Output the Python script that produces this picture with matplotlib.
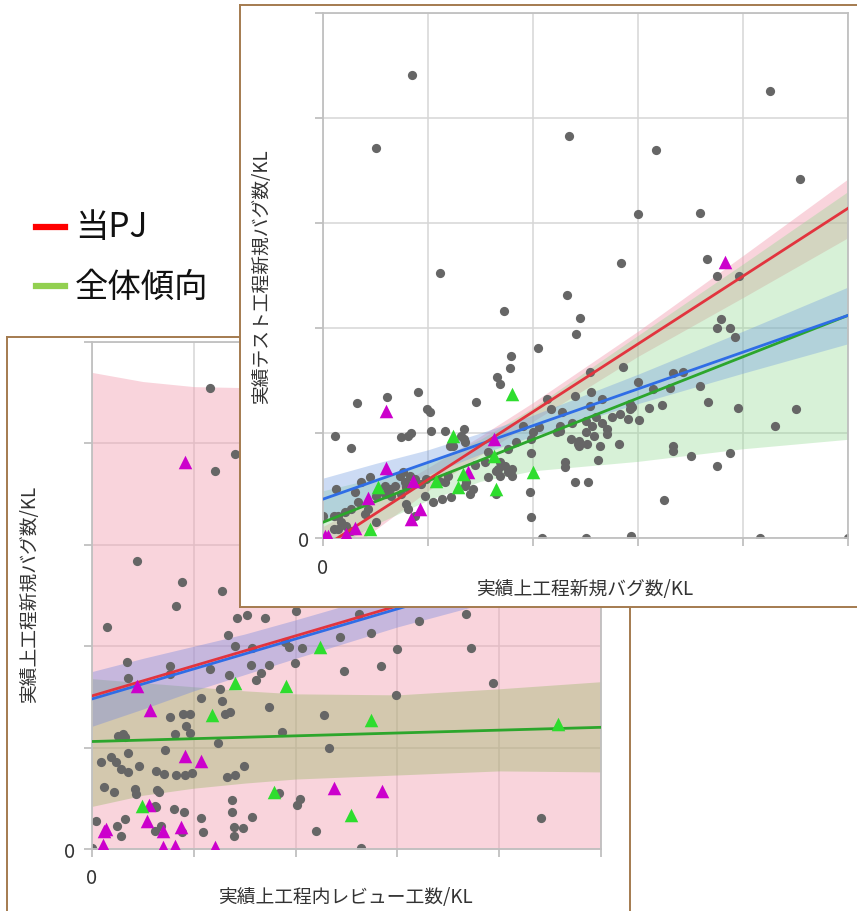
import matplotlib
matplotlib.use('Agg')
import matplotlib.pyplot as plt
from matplotlib.lines import Line2D

plt.rcParams['font.family'] = ['Noto Sans CJK JP', 'DejaVu Sans']

W, H = 857, 912

# ---------------- data (grid units, one grid step = 1) ----------------
# front panel: 実績上工程新規バグ数/KL vs 実績テスト工程新規バグ数/KL
front_grey = [
    (0.85, 4.41), (4.26, 4.26), (0.50, 3.71), (2.34, 3.83), (3.17, 3.70), (4.54, 3.42),
    (3.00, 3.09), (3.59, 3.10), (1.11, 2.52), (2.84, 2.62), (3.66, 2.66), (3.75, 2.50),
    (3.96, 2.50), (2.32, 2.31), (1.72, 2.16), (2.45, 2.10), (2.41, 1.94), (3.79, 2.09),
    (3.75, 2.00), (3.88, 2.00), (3.92, 1.91),
    (2.05, 1.81), (1.79, 1.73), (1.78, 1.62), (1.66, 1.53), (1.69, 1.47), (2.86, 1.63),
    (3.00, 1.49), (3.33, 1.57), (3.43, 1.58), (3.30, 1.43), (3.59, 1.45), (3.67, 1.30),
    (3.95, 1.24), (4.50, 1.23), (4.30, 1.07), (3.88, 0.81), (3.75, 0.69), (3.50, 0.78),
    (3.33, 0.88), (3.33, 0.83), (3.25, 0.36), (2.93, 0.02), (4.16, 0.00), (2.50, 0.00),
    (2.09, 0.00), (1.98, 0.20), (1.97, 0.44), (1.98, 0.81), (2.40, 0.53), (2.52, 0.53),
    (2.30, 0.72), (2.30, 0.68), (2.82, 0.90), (2.62, 0.74), (5.00, 0.00),
    (2.50, 1.11), (2.56, 1.07), (2.60, 1.15), (2.66, 1.10), (2.70, 1.04), (2.58, 0.97),
    (2.50, 1.01), (2.44, 0.92), (2.36, 0.94), (2.44, 0.88), (2.64, 0.88), (2.70, 0.99),
    (2.75, 1.15), (2.83, 1.18), (2.92, 1.23), (2.90, 1.13), (3.01, 1.12), (2.66, 1.32),
    (2.54, 1.26), (2.40, 1.35), (2.23, 1.01), (2.13, 1.32), (2.17, 1.23), (2.06, 1.06),
    (2.00, 1.01), (1.98, 0.94), (1.90, 1.07), (1.84, 0.91), (1.76, 0.85), (1.73, 0.69),
    (1.80, 0.66), (1.80, 0.59), (1.76, 0.63), (1.65, 0.64), (1.69, 0.72), (1.57, 0.82),
    (1.65, 0.42), (1.57, 0.58), (1.46, 1.30), (1.34, 1.04), (1.34, 0.94), (1.24, 0.88),
    (1.16, 1.02), (1.03, 1.02), (0.99, 1.23), (1.02, 1.20), (0.90, 1.39), (0.84, 1.00),
    (0.81, 0.97), (0.74, 0.96), (0.61, 1.34), (0.32, 1.29), (0.11, 0.97), (0.27, 0.86),
    (0.12, 0.47), (0.00, 0.21), (0.10, 0.21),
    (2.54, 1.58), (2.55, 1.39), (2.28, 1.20), (2.26, 1.07), (2.26, 1.02), (2.37, 1.10),
    (2.43, 0.90), (2.51, 0.90), (2.92, 1.28), (2.94, 1.25), (3.10, 1.24), (3.23, 1.27),
    (3.14, 1.42),
    (1.45, 0.70), (1.43, 0.47), (1.40, 0.42), (1.35, 0.50), (1.36, 0.53), (1.22, 0.39),
    (1.13, 0.37), (1.05, 0.34), (1.16, 0.53), (1.19, 0.59), (1.10, 0.54), (0.98, 0.56),
    (0.93, 0.51), (0.88, 0.56), (0.83, 0.59), (0.79, 0.49), (0.78, 0.53), (0.76, 0.63),
    (0.73, 0.59), (0.69, 0.50), (0.64, 0.47), (0.59, 0.50), (0.65, 0.40), (0.59, 0.42),
    (0.52, 0.44), (0.50, 0.40), (0.45, 0.58), (0.36, 0.53), (0.30, 0.44), (0.33, 0.34),
    (0.27, 0.28), (0.21, 0.25), (0.14, 0.21), (0.17, 0.15), (0.22, 0.11), (0.10, 0.09),
    (0.14, 0.09), (0.27, 0.07), (0.40, 0.23), (0.43, 0.28), (0.50, 0.15), (0.81, 0.28),
    (0.79, 0.32), (0.88, 0.21), (0.74, 0.42), (0.97, 0.40),
    (1.35, 0.91), (1.31, 0.97), (1.21, 0.88), (1.54, 0.72), (1.67, 0.66), (1.69, 0.59),
]
front_pj = [
    (0.60, 1.21), (0.60, 0.67), (0.43, 0.38), (0.84, 0.18), (0.92, 0.28), (1.38, 0.63),
    (1.63, 0.94), (0.86, 0.54), (0.05, 0.02), (0.02, 0.02), (0.22, 0.04), (0.30, 0.10),
    (3.83, 2.63),
]
front_other = [
    (1.80, 1.37), (1.24, 0.97), (1.63, 0.78), (2.00, 0.63), (1.65, 0.47), (1.33, 0.61),
    (1.29, 0.49), (1.08, 0.54), (0.52, 0.49), (0.45, 0.09),
]
front_fit_x = [0, 5]
front_red_fit = [-0.09, 3.14]
front_blue_fit = [0.37, 2.12]
front_green_fit = [0.15, 2.12]
front_band_x = [0, 0.5, 1, 1.5, 2, 3, 4, 5]
front_red_lo = [-0.29, 0.08, 0.45, 0.79, 1.11, 1.73, 2.29, 2.86]
front_red_hi = [0.11, 0.38, 0.67, 0.97, 1.29, 1.97, 2.69, 3.42]
front_blue_lo = [0.17, 0.39, 0.60, 0.80, 0.97, 1.28, 1.57, 1.85]
front_blue_hi = [0.57, 0.71, 0.84, 1.00, 1.17, 1.56, 1.97, 2.39]
front_green_lo = [-0.15, 0.13, 0.36, 0.54, 0.64, 0.73, 0.85, 0.94]
front_green_hi = [0.45, 0.57, 0.72, 0.94, 1.24, 1.93, 2.61, 3.30]

# back panel: 実績上工程内レビュー工数/KL vs 実績上工程新規バグ数/KL
back_grey = [
    (1.16, 4.55), (1.40, 3.90), (1.21, 3.73), (0.44, 2.84), (0.88, 2.63), (1.28, 2.54),
    (0.83, 2.40), (0.15, 2.19), (1.42, 2.28), (1.52, 2.31), (1.70, 2.28), (2.00, 2.35),
    (1.34, 2.11), (1.40, 2.00), (1.57, 1.98), (1.90, 2.04), (1.94, 1.99), (2.06, 1.98),
    (2.44, 2.09), (2.48, 1.76), (0.34, 1.84), (0.35, 1.69), (0.77, 1.80), (0.77, 1.73),
    (1.16, 1.78), (1.35, 1.72), (1.56, 1.81), (1.66, 1.74), (1.61, 1.67), (1.74, 1.81),
    (1.99, 1.83), (1.26, 1.58), (1.07, 1.49), (1.28, 1.46), (1.74, 1.40), (2.28, 1.32),
    (0.77, 1.30), (0.89, 1.33), (0.96, 1.33), (0.92, 1.21), (0.96, 1.14), (0.82, 1.13),
    (1.31, 1.33), (1.36, 1.35), (0.26, 1.11), (0.30, 1.13), (0.32, 1.10), (1.87, 1.15),
    (1.24, 1.05), (2.33, 1.00), (0.72, 0.98), (0.35, 0.95), (0.09, 0.86), (0.19, 0.91),
    (0.24, 0.86), (0.28, 0.79), (0.35, 0.76), (0.46, 0.82), (0.63, 0.77), (0.71, 0.74),
    (0.83, 0.73), (0.91, 0.73), (0.98, 0.75), (1.33, 0.71), (1.40, 0.73), (1.49, 0.82),
    (0.12, 0.61), (0.22, 0.56), (0.42, 0.59), (0.43, 0.54), (0.64, 0.58), (0.66, 0.56),
    (0.62, 0.42), (0.63, 0.41), (0.81, 0.39), (0.90, 0.36), (1.07, 0.31), (1.38, 0.48),
    (1.38, 0.36), (1.39, 0.22), (1.48, 0.21), (1.39, 0.13), (1.57, 0.32), (1.84, 0.55),
    (2.01, 0.43), (2.04, 0.49), (2.20, 0.18), (0.04, 0.28), (0.25, 0.23), (0.32, 0.30),
    (0.28, 0.13), (0.62, 0.18), (0.68, 0.23), (1.09, 0.17), (0.88, 0.17), (0.00, 0.01),
    (2.62, 2.32), (2.74, 2.13), (3.21, 2.25), (3.67, 2.32), (3.00, 1.97), (3.72, 1.98),
    (2.84, 1.80), (3.94, 1.64), (2.99, 1.52), (4.41, 0.31), (2.64, 0.01),
]
back_pj = [
    (0.44, 1.61), (0.57, 1.37), (0.91, 0.92), (1.07, 0.87), (0.56, 0.43), (0.54, 0.28),
    (0.70, 0.18), (0.87, 0.22), (0.12, 0.18), (0.14, 0.20), (0.11, 0.04), (0.70, 0.02),
    (0.82, 0.03), (1.21, 0.02), (2.38, 0.60), (2.85, 0.57), (0.91, 3.82),
]
back_other = [
    (1.40, 1.64), (1.91, 1.61), (1.18, 1.32), (2.24, 1.99), (1.79, 0.56), (0.49, 0.42),
    (2.74, 1.27), (4.58, 1.23), (2.54, 0.34),
]
back_fit_x = [0, 5]
back_red_fit = [1.51, 2.99]
back_blue_fit = [1.48, 2.96]
back_green_fit = [1.06, 1.20]
back_band_x = [0, 0.5, 1, 1.5, 2, 3, 4, 5]
back_red_lo = [-0.6, -0.5, -0.45, -0.4, -0.4, -0.45, -0.5, -0.6]
back_red_hi = [4.70, 4.61, 4.56, 4.55, 4.57, 4.66, 4.80, 5.00]
back_blue_lo = [1.21, 1.38, 1.56, 1.72, 1.88, 2.19, 2.46, 2.72]
back_blue_hi = [1.75, 1.88, 2.00, 2.12, 2.26, 2.55, 2.86, 3.20]
back_green_lo = [0.42, 0.53, 0.60, 0.65, 0.69, 0.73, 0.77, 0.76]
back_green_hi = [1.68, 1.64, 1.60, 1.56, 1.53, 1.52, 1.58, 1.65]

legend_labels = ['当PJ', '全体傾向']

# ---------------- styling ----------------
RED, BLUE, GREEN = '#E2343E', '#2F6DE6', '#2CA62C'
GREY_PT, PJ_PT, OTHER_PT = '#666666', '#CC00CC', '#2EDD2E'
FRAME = '#A47B4F'


def px_rect(l, t, r, b):
    return [l / W, 1 - b / H, (r - l) / W, (b - t) / H]


def frame(rect, z):
    a = fig.add_axes(rect, zorder=z)
    a.set_xticks([])
    a.set_yticks([])
    a.set_facecolor('white')
    for s in a.spines.values():
        s.set_color(FRAME)
        s.set_linewidth(1.4)
    return a


def panel(rect, z, ypad, xpad):
    ax = fig.add_axes(rect, zorder=z)
    ax.set_facecolor('none')
    ax.set_xlim(0, 5)
    ax.set_ylim(0, 5)
    ax.set_xticks(range(6))
    ax.set_yticks(range(6))
    ax.set_xticklabels(['0', '', '', '', '', ''])
    ax.set_yticklabels(['0', '', '', '', '', ''])
    ax.grid(color='#D6D6D6', lw=1.1)
    ax.set_axisbelow(True)
    for s in ax.spines.values():
        s.set_color('#C0C0C0')
        s.set_linewidth(1.3)
    ax.tick_params(length=6, width=1.3, color='#C0C0C0', labelsize=14.5,
                   labelcolor='#333333')
    ax.tick_params(axis='x', pad=xpad)
    ax.tick_params(axis='y', pad=ypad)
    return ax


def draw(ax, bx, bands, fx, fits, grey, pj, other):
    for (lo, hi), col, al in bands:
        ax.fill_between(bx, lo, hi, color=col, alpha=al, lw=0, zorder=1)
    gx, gy = zip(*grey)
    ax.scatter(gx, gy, s=44, color=GREY_PT, lw=0, zorder=2)
    for fy, col in fits:
        ax.plot(fx, fy, color=col, lw=2.0, zorder=3)
    px_, py_ = zip(*pj)
    ax.scatter(px_, py_, s=95, marker='^', color=PJ_PT, lw=0, zorder=4)
    ox, oy = zip(*other)
    ax.scatter(ox, oy, s=95, marker='^', color=OTHER_PT, lw=0, zorder=4)


fig = plt.figure(figsize=(W / 100, H / 100), dpi=100)

# back panel
frame(px_rect(7, 338, 630, 940), 1)
ax_b = panel(px_rect(92, 343, 601, 850), 2, ypad=6, xpad=7)
draw(ax_b, back_band_x,
     [((back_red_lo, back_red_hi), '#F2A0B2', 0.45),
      ((back_green_lo, back_green_hi), '#8CB45A', 0.35),
      ((back_blue_lo, back_blue_hi), '#7488E0', 0.38)],
     back_fit_x,
     [(back_green_fit, GREEN), (back_blue_fit, BLUE), (back_red_fit, RED)],
     back_grey, back_pj, back_other)
fig.text(345 / W, 1 - 898 / H, '実績上工程内レビュー工数/KL', ha='center', va='center',
         fontsize=13.5, color='#333333')
fig.text(30 / W, 1 - 594 / H, '実績上工程新規バグ数/KL', ha='center', va='center',
         rotation=90, fontsize=13.5, color='#333333')

# front panel
frame(px_rect(240, 6, 880, 608), 3)
ax_f = panel(px_rect(323, 14, 848, 539), 4, ypad=4, xpad=8)
draw(ax_f, front_band_x,
     [((front_red_lo, front_red_hi), '#F2A0B2', 0.45),
      ((front_green_lo, front_green_hi), '#8ED88E', 0.35),
      ((front_blue_lo, front_blue_hi), '#6E9AE0', 0.35)],
     front_fit_x,
     [(front_green_fit, GREEN), (front_blue_fit, BLUE), (front_red_fit, RED)],
     front_grey, front_pj, front_other)
fig.text(585 / W, 1 - 590 / H, '実績上工程新規バグ数/KL', ha='center', va='center',
         fontsize=13.5, color='#333333', zorder=10)
fig.text(262 / W, 1 - 277 / H, '実績テスト工程新規バグ数/KL', ha='center', va='center',
         rotation=90, fontsize=13.5, color='#333333', zorder=10)

# legend (outside the panels)
for (lbl, col), ypx in zip(zip(legend_labels, ['#FF0000', '#92D050']), [228, 287]):
    fig.add_artist(Line2D([36 / W, 65 / W], [1 - ypx / H] * 2, color=col, lw=4.5,
                          transform=fig.transFigure))
    fig.text(75 / W, 1 - ypx / H, lbl, ha='left', va='center', fontsize=24,
             color='#111111')

fig.savefig('out.png', dpi=100)
